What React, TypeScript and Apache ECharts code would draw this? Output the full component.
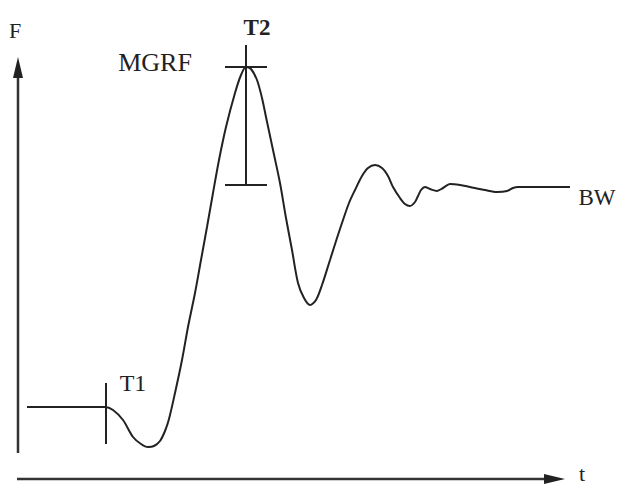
import React, { useEffect, useRef } from "react";
import * as echarts from "echarts";

// Force–time curve (t: time units, F: force units)
const tValues = [
  9, 87, 95, 105, 115, 123, 130, 136, 142, 147, 151, 157, 164, 170, 177, 183, 189, 195, 201, 208,
  217, 223, 228, 233, 239, 244, 248, 255, 262, 268, 274, 280, 286, 292, 298, 304, 312, 319, 325,
  331, 337, 344, 350, 357, 364, 370, 375, 382, 387, 392, 397, 400, 403, 407, 412, 419, 425, 432,
  442, 452, 467, 479, 489, 495, 500, 515, 552,
];
const fValues = [
  72, 72, 69, 59, 42, 35, 32, 33, 38, 48, 60, 86, 119, 152, 186, 219, 252, 286, 319, 352,
  386, 404, 412, 410, 399, 381, 362, 329, 296, 261, 229, 196, 181, 174, 179, 194, 219, 241, 259,
  276, 289, 303, 311, 314, 311, 303, 292, 281, 275, 273, 277, 283, 289, 292, 290, 288, 291, 295,
  294, 292, 289, 287, 288, 291, 292, 292, 292,
];

// Annotation markers
const t1Time = 88;
const t1Range = [35, 96];
const t2Time = 228;
const t2Range = [294, 434];
const mgrfLevel = 412;
const lowLevel = 294;
const barHalfWidth = 21;

const labels = { f: "F", t: "t", t1: "T1", t2: "T2", mgrf: "MGRF", bw: "BW" };

export default function App() {
  const ref = useRef<HTMLDivElement>(null);
  useEffect(() => {
    if (!ref.current) return;
    const chart = echarts.init(ref.current, undefined, { renderer: "svg" });
    const ink = "#222";
    const font = (size: number, weight = "normal") =>
      `${weight} ${size}px "Liberation Serif", "DejaVu Serif", serif`;
    const seg = (a: number[], b: number[]) => [{ coord: a }, { coord: b }];
    chart.setOption({
      animation: false,
      backgroundColor: "#fff",
      grid: { left: 18, right: 0, top: 0, bottom: 6 },
      xAxis: { type: "value", min: 0, max: 602, show: false },
      yAxis: { type: "value", min: 0, max: 479, show: false },
      series: [
        {
          type: "line",
          data: tValues.map((t, i) => [t, fValues[i]]),
          smooth: 0.3,
          showSymbol: false,
          lineStyle: { color: ink, width: 2 },
          markLine: {
            silent: true,
            symbol: "none",
            label: { show: false },
            lineStyle: { color: ink, width: 2, type: "solid" },
            data: [
              seg([t1Time, t1Range[0]], [t1Time, t1Range[1]]),
              seg([t2Time, t2Range[0]], [t2Time, t2Range[1]]),
              seg([t2Time - barHalfWidth, mgrfLevel], [t2Time + barHalfWidth, mgrfLevel]),
              seg([t2Time - barHalfWidth, lowLevel], [t2Time + barHalfWidth, lowLevel]),
            ],
          },
        },
      ],
      graphic: [
        { type: "line", shape: { x1: 18, y1: 453, x2: 18, y2: 72 }, style: { stroke: "#333", lineWidth: 2.5 } },
        { type: "polygon", shape: { points: [[18, 57], [13, 78], [23, 78]] }, style: { fill: "#222" } },
        { type: "line", shape: { x1: 17, y1: 479, x2: 550, y2: 479 }, style: { stroke: "#333", lineWidth: 2.5 } },
        { type: "polygon", shape: { points: [[565, 479], [544, 474], [544, 484]] }, style: { fill: "#222" } },
        { type: "text", x: 15, y: 30, style: { text: labels.f, font: font(22), fill: ink, textAlign: "center", textVerticalAlign: "middle" } },
        { type: "text", x: 582, y: 473, style: { text: labels.t, font: font(22), fill: ink, textAlign: "center", textVerticalAlign: "middle" } },
        { type: "text", x: 133, y: 383, style: { text: labels.t1, font: font(24), fill: ink, textAlign: "center", textVerticalAlign: "middle" } },
        { type: "text", x: 257, y: 27, style: { text: labels.t2, font: font(23, "bold"), fill: ink, textAlign: "center", textVerticalAlign: "middle" } },
        { type: "text", x: 155, y: 62, style: { text: labels.mgrf, font: font(26), fill: ink, textAlign: "center", textVerticalAlign: "middle" } },
        { type: "text", x: 597, y: 197, style: { text: labels.bw, font: font(23), fill: ink, textAlign: "center", textVerticalAlign: "middle" } },
      ],
    });
    return () => chart.dispose();
  }, []);
  return (
    <div
      ref={ref}
      style={{ position: "absolute", left: 0, top: 0, width: 620, height: 485 }}
    />
  );
}
